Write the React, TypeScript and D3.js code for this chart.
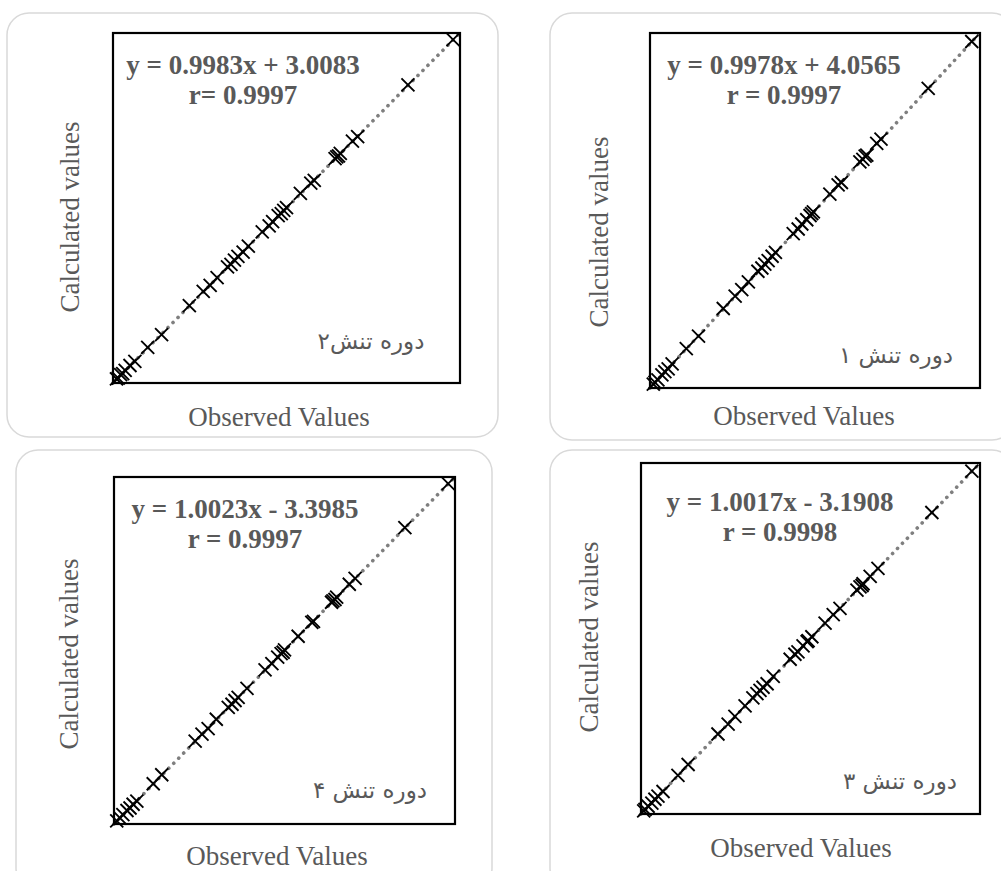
import React, { useRef, useEffect } from 'react';
import * as d3 from 'd3';

const W = 1001;
const H = 871;

// stress period 2 (top-left)
const obs2 = [1.0, 1.5, 2.2, 2.8, 3.5, 4.9, 6.3, 10, 14, 22, 26, 28, 30, 33, 34, 35, 36, 37.5, 39, 43, 45, 46, 47.6, 48.5, 49.2, 50, 54, 57, 58, 64, 64.5, 65, 65.5, 69, 70.5, 85, 98];
const calc2 = [1.2, 1.4, 2.4, 2.7, 3.6, 5.0, 6.2, 10.2, 13.8, 22.1, 26.2, 27.9, 30.1, 33.2, 33.9, 35.1, 36.2, 37.4, 39.1, 43.2, 44.9, 46.1, 47.8, 48.4, 49.3, 50.1, 54.2, 57.1, 57.9, 64.1, 64.6, 64.9, 65.6, 69.1, 70.4, 85.2, 98.1];

// stress period 1 (top-right)
const obs1 = [1.0, 1.5, 2.4, 3.6, 4.5, 5.5, 6.7, 11, 14.7, 22.2, 25.8, 27.8, 29.8, 32.7, 33.9, 34.8, 35.8, 37, 38, 43.4, 44.9, 46, 47.5, 48.5, 49, 49.5, 54.5, 57, 58, 63.6, 64.5, 65.2, 65.7, 68.7, 70, 84.3, 97.5];
const calc1 = [1.1, 1.6, 2.3, 3.7, 4.6, 5.4, 6.8, 11.1, 14.6, 22.4, 25.9, 27.7, 29.9, 32.9, 33.8, 34.9, 35.9, 37.1, 38.2, 43.5, 44.8, 46.2, 47.4, 48.6, 49.1, 49.6, 54.6, 57.2, 57.9, 63.7, 64.4, 65.3, 65.6, 68.9, 70.1, 84.4, 97.6];

// stress period 4 (bottom-left)
const obs4 = [0.8, 1.8, 2.6, 3.8, 4.7, 5.6, 6.7, 11.5, 14, 23.8, 25.8, 27.6, 30, 33.5, 34.6, 35.5, 36.4, 39, 44.3, 46.3, 48, 49, 49.6, 50, 54, 58, 58.5, 63.8, 64.2, 64.8, 65.3, 69, 70.7, 85.3, 98];
const calc4 = [0.9, 1.7, 2.7, 3.9, 4.6, 5.7, 6.6, 11.6, 14.2, 23.9, 25.9, 27.5, 30.2, 33.6, 34.5, 35.6, 36.5, 39.1, 44.4, 46.2, 48.1, 49.1, 49.5, 50.2, 54.1, 58.1, 58.4, 63.9, 64.3, 64.7, 65.4, 69.1, 70.8, 85.4, 98.1];

// stress period 3 (bottom-right)
const obs3 = [0.8, 1.2, 2.1, 3.2, 4.1, 5.0, 6.5, 10.9, 13.9, 22.7, 25.7, 27.7, 30.7, 33, 34.2, 35.1, 36, 37.2, 39, 44, 45.4, 46.3, 47.8, 49, 49.3, 50.4, 54.3, 56.7, 58.7, 63.7, 64.6, 65.2, 65.5, 67.6, 69.9, 85.8, 97.6];
const calc3 = [0.9, 1.3, 2.2, 3.1, 4.2, 5.1, 6.4, 11.0, 14.1, 22.8, 25.6, 27.8, 30.8, 33.1, 34.3, 35.2, 36.1, 37.1, 39.2, 44.1, 45.5, 46.2, 47.9, 49.1, 49.4, 50.5, 54.4, 56.8, 58.6, 63.8, 64.7, 65.1, 65.6, 67.7, 70.0, 85.9, 97.7];

const equations = ['y = 0.9983x + 3.0083', 'y = 0.9978x + 4.0565', 'y = 1.0023x - 3.3985', 'y = 1.0017x - 3.1908'];
const rValues = ['r= 0.9997', 'r = 0.9997', 'r = 0.9997', 'r = 0.9998'];
const periodLabels = ['دوره تنش۲', 'دوره تنش ۱', 'دوره تنش ۴', 'دوره تنش ۳'];
const domain = [0, 100];

const gray = '#595959';
const serif = '"Liberation Serif", "Times New Roman", serif';

const panels = [
	{ obs: obs2, calc: calc2, card: [7, 13, 498, 437], box: [113, 33, 460, 383], tx: 243, eqY: 74, rY: 104, lx: 371, ly: 349, yx: 79, yy: 217, xx: 279, xy: 426 },
	{ obs: obs1, calc: calc1, card: [550, 13, 1014, 440], box: [650, 33, 980, 388], tx: 784, eqY: 74, rY: 104, lx: 896, ly: 363, yx: 608, yy: 232, xx: 804, xy: 425 },
	{ obs: obs4, calc: calc4, card: [16, 450, 492, 890], box: [114, 477, 455, 824], tx: 245, eqY: 518, rY: 548, lx: 370, ly: 798, yx: 78, yy: 654, xx: 277, xy: 865 },
	{ obs: obs3, calc: calc3, card: [550, 450, 1014, 890], box: [641, 463, 980, 814], tx: 780, eqY: 511, rY: 541, lx: 900, ly: 789, yx: 598, yy: 637, xx: 801, xy: 857 },
];

const renderPanels = (ref) => {
	const svg = d3.select(ref.current);
	svg.selectAll('*').remove();

	panels.forEach((p, i) => {
		const [cx0, cy0, cx1, cy1] = p.card;
		const [bx0, by0, bx1, by1] = p.box;
		const g = svg.append('g');

		g.append('rect')
			.attr('x', cx0).attr('y', cy0)
			.attr('width', cx1 - cx0).attr('height', cy1 - cy0)
			.attr('rx', 22)
			.attr('fill', 'white')
			.attr('stroke', '#d9d9d9')
			.attr('stroke-width', 1.5);

		const x = d3.scaleLinear().domain(domain).range([bx0, bx1]);
		const y = d3.scaleLinear().domain(domain).range([by1, by0]);

		// trend line
		const line = d3.line().x((d) => x(d[0])).y((d) => y(d[1]));
		g.append('path')
			.attr('d', line([[domain[0], domain[0]], [domain[1], domain[1]]]))
			.attr('fill', 'none')
			.attr('stroke', '#7f7f7f')
			.attr('stroke-width', 3.6)
			.attr('stroke-linecap', 'round')
			.attr('stroke-dasharray', '0.1 7');

		// x markers
		const s = 6.5;
		const sym = p.obs.map((v, k) => [x(v), y(p.calc[k])]);
		g.append('g')
			.selectAll('path')
			.data(sym)
			.join('path')
			.attr('d', ([px, py]) => `M${ px - s },${ py - s }L${ px + s },${ py + s }M${ px - s },${ py + s }L${ px + s },${ py - s }`)
			.attr('stroke', '#000')
			.attr('stroke-width', 1.9)
			.attr('fill', 'none');

		g.append('rect')
			.attr('x', bx0).attr('y', by0)
			.attr('width', bx1 - bx0).attr('height', by1 - by0)
			.attr('fill', 'none')
			.attr('stroke', '#000')
			.attr('stroke-width', 2.2);

		g.append('text')
			.attr('x', p.tx).attr('y', p.eqY)
			.attr('text-anchor', 'middle')
			.attr('font-family', serif)
			.attr('font-weight', 'bold')
			.attr('font-size', 27)
			.attr('fill', gray)
			.text(equations[i]);

		g.append('text')
			.attr('x', p.tx).attr('y', p.rY)
			.attr('text-anchor', 'middle')
			.attr('font-family', serif)
			.attr('font-weight', 'bold')
			.attr('font-size', 27)
			.attr('fill', gray)
			.text(rValues[i]);

		g.append('text')
			.attr('x', p.lx).attr('y', p.ly)
			.attr('text-anchor', 'middle')
			.attr('font-family', '"DejaVu Sans", sans-serif')
			.attr('font-size', 23)
			.attr('fill', gray)
			.text(periodLabels[i]);

		g.append('text')
			.attr('transform', `translate(${ p.yx },${ p.yy }) rotate(-90)`)
			.attr('text-anchor', 'middle')
			.attr('font-family', serif)
			.attr('font-size', 27)
			.attr('fill', gray)
			.text('Calculated values');

		g.append('text')
			.attr('x', p.xx).attr('y', p.xy)
			.attr('text-anchor', 'middle')
			.attr('font-family', serif)
			.attr('font-size', 27)
			.attr('fill', gray)
			.text('Observed Values');
	});
};

const App = () => {
	const ref = useRef(null);

	useEffect(() => {
		renderPanels(ref);
	}, []);

	return (
		<svg ref={ ref } width={ W } height={ H }
			style={ { position: 'absolute', left: 0, top: 0, background: 'white' } }/>
	);
};

export default App;
